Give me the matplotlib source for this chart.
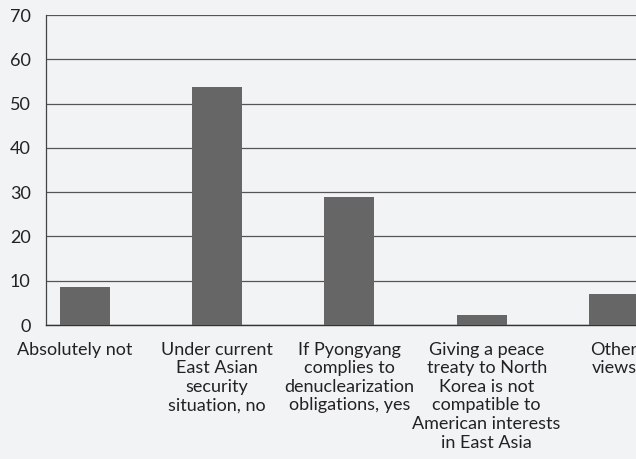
import matplotlib.pyplot as plt
from matplotlib.transforms import ScaledTranslation

categories = [
    "Absolutely not",
    "Under current\nEast Asian\nsecurity\nsituation, no",
    "If Pyongyang\ncomplies to\ndenuclearization\nobligations, yes",
    "Giving a peace\ntreaty to North\nKorea is not\ncompatible to\nAmerican interests\nin East Asia",
    "Other\nviews",
]
values = [8.5, 53.7, 28.8, 2.3, 7.0]
yticks = [0, 10, 20, 30, 40, 50, 60, 70]

bg = "#f2f3f5"
plt.rcParams["font.family"] = ["Lato", "DejaVu Sans"]

fig = plt.figure(figsize=(6.36, 4.59), dpi=100)
fig.patch.set_facecolor(bg)
# axes runs past the right edge of the figure, as in the clipped original
ax = fig.add_axes([46 / 636, 134 / 459, 634 / 636, 310 / 459])
ax.set_facecolor(bg)

x = list(range(len(categories)))
ax.bar(x, values, width=0.378, color="#666666", zorder=3)

ax.set_ylim(0, 70)
ax.set_xlim(-0.295, 4.5)
ax.set_yticks(yticks)
ax.yaxis.grid(True, color="#555555", linewidth=0.9, zorder=0)
ax.set_axisbelow(True)
ax.tick_params(axis="y", length=0, pad=11, labelsize=13, colors="#222222")
ax.tick_params(axis="x", length=0, pad=12, labelsize=13, colors="#222222")
ax.set_xticks(x)
ax.set_xticklabels(categories, linespacing=1.2)

# some labels sit slightly off their bar centre in the original
shifts = {0: -10, 3: 5}
for i, dx in shifts.items():
    lab = ax.get_xticklabels()[i]
    lab.set_transform(lab.get_transform() + ScaledTranslation(dx / 100, 0, fig.dpi_scale_trans))

for side in ["top", "right"]:
    ax.spines[side].set_visible(False)
ax.spines["left"].set_color("#444444")
ax.spines["left"].set_linewidth(0.9)
ax.spines["bottom"].set_color("#333333")
ax.spines["bottom"].set_linewidth(1.0)

fig.savefig("out.png", dpi=100, facecolor=bg)
plt.close(fig)
